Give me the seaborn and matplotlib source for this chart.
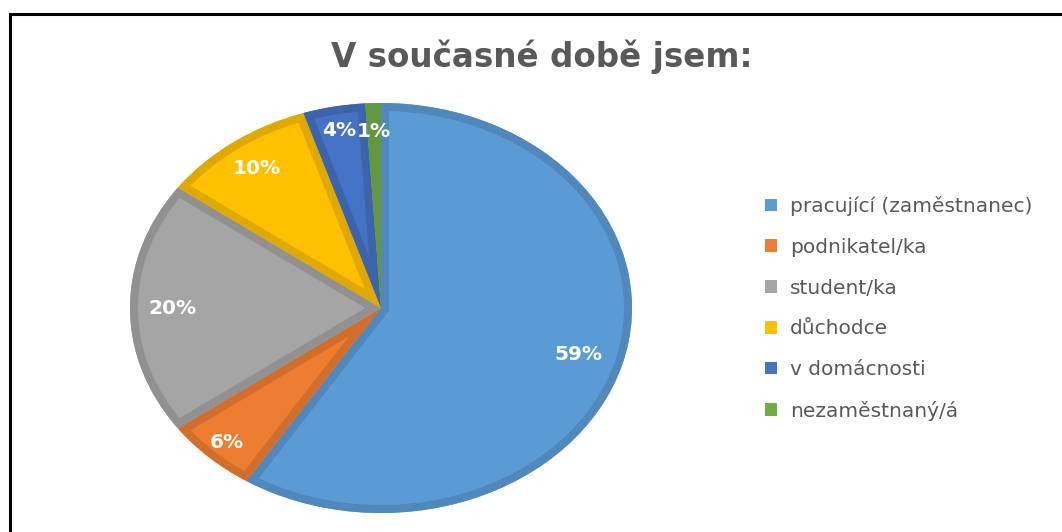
import numpy as np
import matplotlib
matplotlib.use("Agg")
import matplotlib.pyplot as plt
import matplotlib.colors as mcolors
from matplotlib.patches import Patch, PathPatch, Rectangle
import seaborn as sns

categories = ["pracující (zaměstnanec)", "podnikatel/ka", "student/ka",
              "důchodce", "v domácnosti", "nezaměstnaný/á"]
shares = [59, 6, 20, 10, 4, 1]
colors = ["#5B9BD5", "#ED7D31", "#A5A5A5", "#FFC000", "#4472C4", "#70AD47"]
title = "V současné době jsem:"

sns.set_theme(style="white")
plt.rcParams["font.family"] = ["DejaVu Sans"]

W, H = 1062, 532
fig = plt.figure(figsize=(W / 100, H / 100), dpi=100)
fig.patch.set_facecolor("white")

# elliptical pie area (pixel box converted to figure fractions)
cx, cy, rx, ry = 381, 308, 251, 205
ax = fig.add_axes([(cx - rx) / W, (H - cy - ry) / H, 2 * rx / W, 2 * ry / H])

def darker(c, f=0.88):
    r, g, b = mcolors.to_rgb(c)
    return (r * f, g * f, b * f)

wedges, _, autotexts = ax.pie(
    shares, colors=colors, startangle=90, counterclock=False,
    autopct="%.0f%%", pctdistance=0.85, radius=1.0,
    wedgeprops=dict(linewidth=0),
    textprops=dict(color="white", fontsize=14.5, fontweight="bold"),
)
ax.set_aspect("auto")
ax.set_xlim(-1, 1)
ax.set_ylim(-1, 1)
ax.axis("off")

# darker inner border on every slice: a stroke clipped to the slice itself
for w, c in zip(wedges, colors):
    border = PathPatch(w.get_path(), transform=w.get_transform(),
                       facecolor="none", edgecolor=darker(c),
                       linewidth=11.5, joinstyle="miter", zorder=w.get_zorder() + 0.1)
    ax.add_patch(border)
    border.set_clip_path(w.get_path(), w.get_transform())

# label distance from the centre, per slice
label_dist = [0.82, 0.90, 0.83, 0.84, 0.88, 0.86]
for w, t, d in zip(wedges, autotexts, label_dist):
    mid = np.deg2rad((w.theta1 + w.theta2) / 2)
    t.set_position((d * np.cos(mid), d * np.sin(mid)))
    t.set_zorder(5)

fig.text(542 / W, 1 - 57 / H, title, ha="center", va="center",
         fontsize=23.5, fontweight="bold", color="#595959")

handles = [Patch(facecolor=c, edgecolor="none") for c in colors]
fig.legend(handles, categories, loc="upper left",
           bbox_to_anchor=(757 / W, 1 - 188 / H), frameon=False,
           fontsize=14.5, labelcolor="#595959", handlelength=0.6,
           handleheight=0.6, handletextpad=0.65, labelspacing=1.08,
           borderaxespad=0)

# outer frame, running off the right and bottom edges
fig.add_artist(Rectangle((10 / W, -0.2), 1.5, 1.2 - 14 / H,
                         transform=fig.transFigure, fill=False,
                         edgecolor="black", linewidth=2.2))

fig.savefig("out.png", dpi=100)
